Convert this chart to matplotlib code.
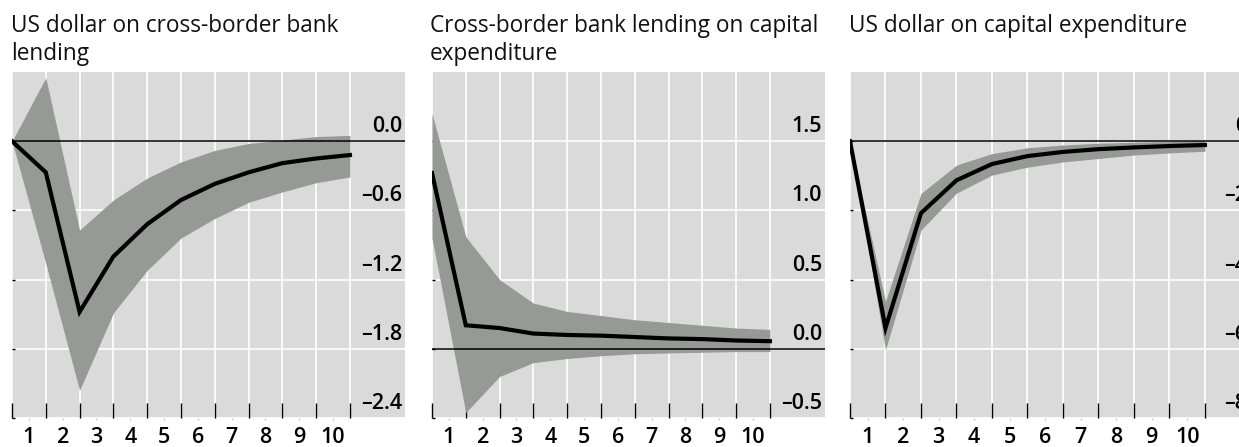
import matplotlib
matplotlib.use("Agg")
import matplotlib.pyplot as plt
import matplotlib.transforms as mtransforms

plt.rcParams['font.family'] = ['Open Sans', 'DejaVu Sans']

# horizon (periods) - data points sit on the grid lines 0..10
steps = list(range(11))
step_labels = [str(i) for i in range(1, 11)]

titles = ["US dollar on cross-border bank\nlending",
          "Cross-border bank lending on capital\nexpenditure",
          "US dollar on capital expenditure"]

# panel 1: US dollar on cross-border bank lending
p1_mid = [0.0, -0.27, -1.48, -1.00, -0.72, -0.51, -0.37, -0.27, -0.19, -0.15, -0.12]
p1_hi = [0.0, 0.55, -0.77, -0.51, -0.32, -0.18, -0.08, -0.02, 0.01, 0.04, 0.05]
p1_lo = [0.0, -1.06, -2.16, -1.49, -1.12, -0.84, -0.67, -0.53, -0.44, -0.36, -0.31]
p1_ticks = [-2.4, -1.8, -1.2, -0.6, 0.0]
p1_labels = ["\u20132.4", "\u20131.8", "\u20131.2", "\u20130.6", "0.0"]

# panel 2: cross-border bank lending on capital expenditure
p2_mid = [1.27, 0.17, 0.15, 0.11, 0.10, 0.095, 0.085, 0.075, 0.07, 0.06, 0.055]
p2_hi = [1.70, 0.81, 0.50, 0.33, 0.27, 0.24, 0.21, 0.19, 0.17, 0.15, 0.14]
p2_lo = [0.80, -0.46, -0.20, -0.10, -0.07, -0.05, -0.036, -0.03, -0.025, -0.02, -0.02]
p2_ticks = [-0.5, 0.0, 0.5, 1.0, 1.5]
p2_labels = ["\u20130.5", "0.0", "0.5", "1.0", "1.5"]

# panel 3: US dollar on capital expenditure
p3_mid = [0.0, -5.40, -2.08, -1.13, -0.66, -0.43, -0.31, -0.23, -0.18, -0.14, -0.11]
p3_hi = [0.0, -4.63, -1.51, -0.69, -0.36, -0.19, -0.11, -0.06, -0.03, -0.01, 0.02]
p3_lo = [0.0, -6.03, -2.57, -1.50, -0.98, -0.75, -0.60, -0.50, -0.40, -0.34, -0.29]
p3_ticks = [-8, -6, -4, -2, 0]
p3_labels = ["\u20138", "\u20136", "\u20134", "\u20132", "0"]

W, H = 1239, 447
fig = plt.figure(figsize=(W / 100, H / 100), dpi=100)

top_px, bot_px = 72, 418
panels = [
    dict(left=12, right=405, xmax=11.63, ylim=(-2.4, 0.6), mid=p1_mid, hi=p1_hi, lo=p1_lo,
         ticks=p1_ticks, labels=p1_labels, tx=11),
    dict(left=432, right=825, xmax=11.63, ylim=(-0.5, 2.0), mid=p2_mid, hi=p2_hi, lo=p2_lo,
         ticks=p2_ticks, labels=p2_labels, tx=430),
    dict(left=850, right=1250, xmax=11.27, ylim=(-8, 2), mid=p3_mid, hi=p3_hi, lo=p3_lo,
         ticks=p3_ticks, labels=p3_labels, tx=849),
]

bg = "#dadada"
band = "#959a94"

for p, title in zip(panels, titles):
    ax = fig.add_axes([p['left'] / W, 1 - bot_px / H,
                       (p['right'] - p['left']) / W, (bot_px - top_px) / H])
    ax.set_facecolor(bg)
    for s in ax.spines.values():
        s.set_visible(False)
    ax.set_xlim(0, p['xmax'])
    ax.set_ylim(*p['ylim'])

    # grid
    for x in steps:
        ax.axvline(x, color="white", lw=1.2, zorder=1)
    for y in p['ticks']:
        ax.axhline(y, color="white", lw=1.2, zorder=1)

    ax.fill_between(steps, p['lo'], p['hi'], color=band, lw=0, zorder=2)
    ax.axhline(0, color="black", lw=1.1, zorder=3)
    ax.plot(steps, p['mid'], color="black", lw=3, solid_joinstyle="miter", zorder=4)

    # x ticks: marks on grid lines, labels centred between them
    ax.set_xticks(steps)
    ax.set_xticklabels([])
    ax.tick_params(axis='x', which='major', direction='in', length=10.5, width=1,
                   color="black", bottom=True)
    ax.set_xticks([i + 0.5 for i in range(10)], minor=True)
    ax.set_xticklabels(step_labels, minor=True, fontsize=15.5, fontweight='semibold')
    ax.tick_params(axis='x', which='minor', direction='out', length=1.5, width=1,
                   color="#c8c8c8", pad=5)

    ax.set_yticks(p['ticks'])
    ax.set_yticklabels([])
    ax.tick_params(axis='y', direction='in', length=2, width=1, color="black")

    trans = mtransforms.blended_transform_factory(ax.transAxes, ax.transData)
    for y, lab in zip(p['ticks'], p['labels']):
        ax.annotate(lab, xy=(1, y), xycoords=trans, xytext=(-3, 4),
                    textcoords='offset pixels', ha='right', va='bottom',
                    fontsize=15.5, fontweight='semibold', zorder=5)

    fig.text(p['tx'] / W, 1 - 14 / H, title, ha='left', va='top', fontsize=16.3,
             linespacing=1.2, color="#111111")

fig.savefig("out.png", dpi=100)
